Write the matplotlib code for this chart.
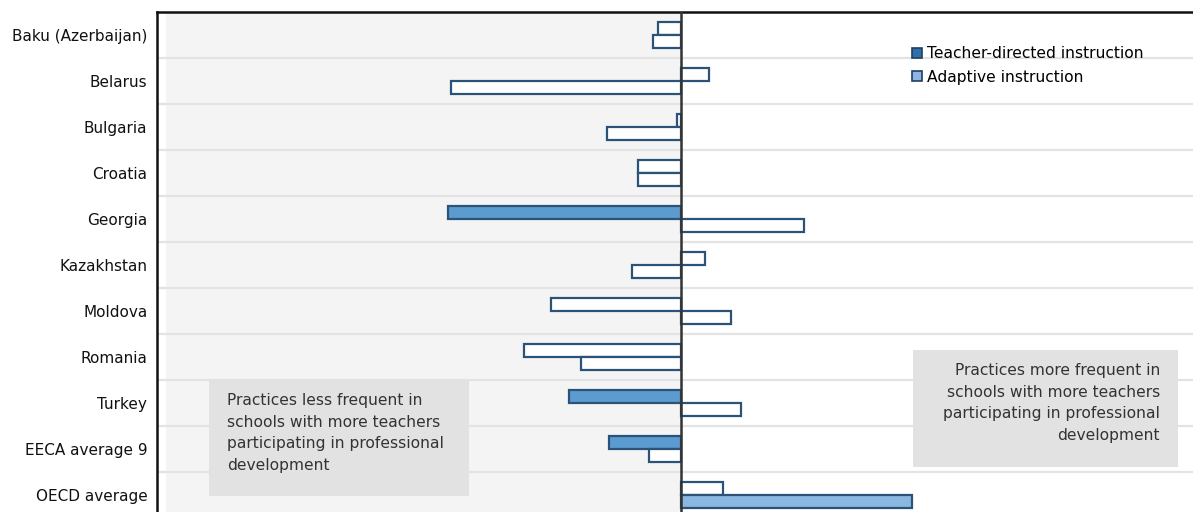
import matplotlib
matplotlib.use("Agg")
import matplotlib.pyplot as plt
from matplotlib.lines import Line2D
from matplotlib.patches import Rectangle
import numpy as np

categories = ["Baku (Azerbaijan)", "Belarus", "Bulgaria", "Croatia", "Georgia",
              "Kazakhstan", "Moldova", "Romania", "Turkey", "EECA average 9", "OECD average"]
teacher_directed = [-2.3, 2.8, -0.4, -4.3, -23.3, 2.4, -13.0, -15.7, -11.2, -7.2, 4.2]
adaptive = [-2.8, -23.0, -7.4, -4.3, 12.3, -4.9, 5.0, -10.0, 6.0, -3.2, 23.1]
teacher_sig = [False, False, False, False, True, False, False, False, True, True, False]
adaptive_sig = [False, False, False, False, False, False, False, False, False, False, True]

series_labels = ["Teacher-directed instruction", "Adaptive instruction"]
left_note = "Practices less frequent in\nschools with more teachers\nparticipating in professional\ndevelopment"
right_note = "Practices more frequent in\nschools with more teachers\nparticipating in professional\ndevelopment"

plt.rcParams['font.family'] = ['DejaVu Sans']

W, H = 1193, 512
fig = plt.figure(figsize=(W / 100, H / 100), dpi=100)
ax = fig.add_axes([157 / W, -6 / H, (W - 157) / W, 506 / H])

xmin, xmax = -52.4, 51.2
ax.set_xlim(xmin, xmax)
ax.set_ylim(len(categories) - 0.5, -0.5)

edge = "#2b5277"
teacher_fill = "#5b9bd0"
adaptive_fill = "#8ab8e0"

# left gray background
ax.axvspan(-51.5, 0, color="#f4f4f4", zorder=0, lw=0)
# gridlines between rows
for i in range(len(categories) - 1):
    ax.axhline(i + 0.5, color="#e3e3e3", lw=1.6, zorder=1)

y = np.arange(len(categories))
bh = 0.28
for i in range(len(categories)):
    ax.barh(y[i] - bh / 2, teacher_directed[i], height=bh,
            color=teacher_fill if teacher_sig[i] else "white",
            edgecolor=edge, linewidth=1.6, zorder=3)
    ax.barh(y[i] + bh / 2, adaptive[i], height=bh,
            color=adaptive_fill if adaptive_sig[i] else "white",
            edgecolor=edge, linewidth=1.6, zorder=3)

ax.axvline(0, color="#333333", lw=1.8, zorder=4)

fs = 11.2
ax.set_yticks(y)
ax.set_yticklabels(categories, fontsize=11, color="#111111")
ax.tick_params(axis="y", length=0, pad=7)
ax.set_xticks([])
for s in ["right", "bottom"]:
    ax.spines[s].set_visible(False)
for s in ["top", "left"]:
    ax.spines[s].set_linewidth(1.8)
    ax.spines[s].set_color("#111111")

# notes (boxes drawn as rectangles, text placed inside)
ax.add_patch(Rectangle((-47.2, 7.478), 26.0, 2.544, fc="#e2e2e2", ec="none", zorder=5))
ax.text(-45.4, 8.652, left_note, ha="left", va="center", fontsize=fs,
        color="#333333", linespacing=1.55, zorder=6)
ax.add_patch(Rectangle((23.2, 6.848), 26.5, 2.543, fc="#e2e2e2", ec="none", zorder=5))
ax.text(47.9, 8.0, right_note, ha="right", va="center", fontsize=fs,
        color="#333333", linespacing=1.55, zorder=6, multialignment="right")

handles = [Line2D([], [], marker="s", ls="none", markersize=7, markerfacecolor="#2e6fad",
                  markeredgecolor="#1f3f60", markeredgewidth=1.2),
           Line2D([], [], marker="s", ls="none", markersize=7, markerfacecolor="#8db4e2",
                  markeredgecolor="#1f3f60", markeredgewidth=1.2)]
leg = ax.legend(handles, series_labels, loc="upper left",
                bbox_to_anchor=((911 - 157) / (W - 157), 1 - 34 / 506),
                frameon=False, fontsize=fs, handlelength=0.8, handletextpad=0.2,
                labelspacing=0.55, borderaxespad=0, borderpad=0)
leg.set_zorder(7)

fig.savefig("out.png", dpi=100)
